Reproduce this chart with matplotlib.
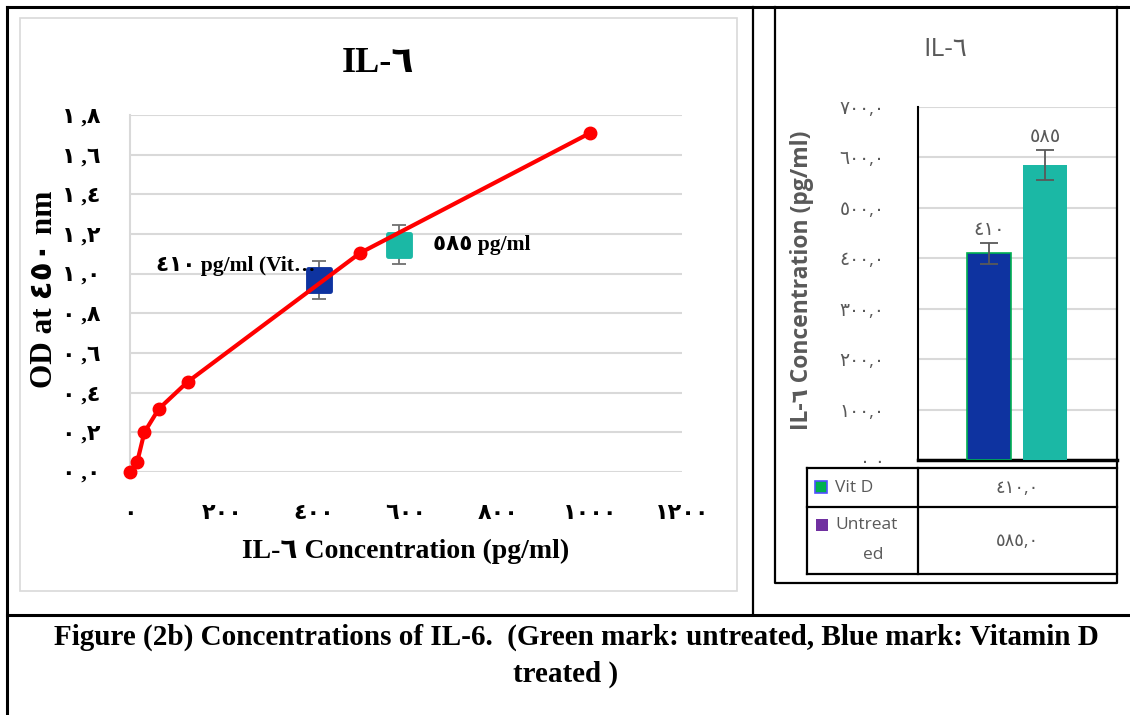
import matplotlib
matplotlib.use("Agg")
import matplotlib.pyplot as plt
from matplotlib.lines import Line2D
from matplotlib.patches import Rectangle
from matplotlib.markers import MarkerStyle

W, H = 1130, 715
AR = str.maketrans("0123456789", "٠١٢٣٤٥٦٧٨٩")


def ar(s):
    return str(s).translate(AR)


# ---- data -------------------------------------------------------------------
# standard curve (left chart)
std_conc = [0, 15.6, 31.25, 62.5, 125, 500, 1000]
std_od = [0.0, 0.05, 0.20, 0.318, 0.454, 1.104, 1.709]

# samples
sample_names = ["Vit D", "Untreated"]
sample_conc = [410, 585]
sample_od = [0.968, 1.145]
sample_od_err = [0.098, 0.098]
sample_text = ["٤١٠ pg/ml (Vit…", "٥٨٥ pg/ml"]

# bar chart (right)
bar_vals = [410, 585]
bar_err = [21, 29]

x_ticks = [0, 200, 400, 600, 800, 1000, 1200]
y_ticks = [0.0, 0.2, 0.4, 0.6, 0.8, 1.0, 1.2, 1.4, 1.6, 1.8]
bar_ticks = [0, 100, 200, 300, 400, 500, 600, 700]

BLUE = "#0E33A0"
TEAL = "#1BB8A5"
RED = "#FF0000"
GRID = "#D9D9D9"
GRAY = "#595959"
SERIF = ["Liberation Serif", "DejaVu Sans"]
SANS = ["Open Sans", "DejaVu Sans"]

fig = plt.figure(figsize=(W / 100, H / 100), dpi=100)


def box(l, t, r, b):
    return [l / W, 1 - b / H, (r - l) / W, (b - t) / H]


def fline(xs, ys, color="black", lw=1.6, z=10):
    fig.add_artist(Line2D([x / W for x in xs], [1 - y / H for y in ys],
                          color=color, lw=lw, zorder=z,
                          solid_capstyle="projecting"))


def frect(x, y, w, h, z=6, **kw):
    fig.add_artist(Rectangle((x / W, 1 - (y + h) / H), w / W, h / H,
                             transform=fig.transFigure, zorder=z, **kw))


def ftext(x, y, s, **kw):
    fig.text(x / W, 1 - y / H, s, **kw)


# ---- left chart: standard curve ---------------------------------------------
frect(20, 18, 717, 573, z=0, facecolor="white", edgecolor=GRID, lw=1.2)

ax = fig.add_axes(box(130, 115, 682, 472))
ax.set_xlim(0, 1200)
ax.set_ylim(0, 1.8)
for s in ["top", "right", "bottom"]:
    ax.spines[s].set_visible(False)
ax.spines["left"].set_color(GRID)
ax.spines["left"].set_linewidth(1.5)
ax.set_yticks(y_ticks)
ax.set_yticklabels([ar(f"{v:.1f}".replace(".", " ,")) for v in y_ticks],
                   fontsize=16, fontweight="bold", family=SERIF)
ax.set_xticks(x_ticks)
ax.set_xticklabels([ar(v) for v in x_ticks], fontsize=16,
                   fontweight="bold", family=SERIF)
ax.tick_params(length=0)
ax.tick_params(axis="y", pad=21)
ax.tick_params(axis="x", pad=23)
ax.grid(axis="y", color=GRID, lw=1.5)
ax.set_axisbelow(True)

sq = MarkerStyle("s", joinstyle="round")
for c, od, err, col in zip(sample_conc, sample_od, sample_od_err, [BLUE, TEAL]):
    ax.errorbar([c], [od], yerr=[err], fmt="none", ecolor="#6F6F6F",
                elinewidth=1.3, capsize=5, capthick=1.3, zorder=3)
    ax.plot([c], [od], marker=sq, markersize=16, markeredgewidth=3.5,
            color=col, mec=col, linestyle="none", zorder=4)

ax.plot(std_conc, std_od, color=RED, lw=3, marker="o", markersize=9,
        zorder=5, clip_on=False)

ax.text(sample_conc[0] - 163 * 1200 / 552, sample_od[0] + 0.07, sample_text[0],
        ha="left", va="center", fontsize=15.5, fontweight="bold",
        family=SERIF, zorder=6)
ax.text(sample_conc[1] + 34 * 1200 / 552, sample_od[1], sample_text[1],
        ha="left", va="center", fontsize=15.5, fontweight="bold",
        family=SERIF, zorder=6)

ftext(378, 63, "IL-٦", ha="center", va="center", fontsize=26,
      fontweight="bold", family=SERIF)
ftext(406, 551, "IL-٦ Concentration (pg/ml)", ha="center", va="center",
      fontsize=20, fontweight="bold", family=SERIF)
ftext(45, 289, "OD at ٤٥٠ nm", ha="center", va="center", rotation=90,
      fontsize=22.5, fontweight="bold", family=SERIF)

# ---- right chart: bars --------------------------------------------------------
ax2 = fig.add_axes(box(918, 107, 1117, 460))
ax2.set_xlim(-0.5, 0.5)
ax2.set_ylim(0, 700)
offsets = [-0.143, 0.138]
ax2.bar(offsets[0], bar_vals[0], width=0.221, color=BLUE,
        edgecolor="#00B050", lw=1.2, zorder=3)
ax2.bar(offsets[1], bar_vals[1], width=0.221, color=TEAL, lw=0, zorder=3)
ax2.errorbar(offsets, bar_vals, yerr=bar_err, fmt="none", ecolor=GRAY,
             elinewidth=1.3, capsize=6.5, capthick=1.3, zorder=4)
for x, v, e in zip(offsets, bar_vals, bar_err):
    ax2.text(x, v + e + 26, ar(v), ha="center", va="center", fontsize=14,
             color=GRAY, family=SANS)
for s in ["top", "right"]:
    ax2.spines[s].set_visible(False)
ax2.spines["left"].set_linewidth(1.5)
ax2.spines["bottom"].set_linewidth(2.5)
ax2.set_xticks([])
ax2.set_yticks(bar_ticks)
ax2.set_yticklabels([ar(f"{v}.0".replace(".", ",")) for v in bar_ticks],
                    fontsize=13.5, color=GRAY, family=SANS)
ax2.tick_params(length=0, pad=24)
ax2.grid(axis="y", color=GRID, lw=1.5)
ax2.set_axisbelow(True)

ftext(945, 50, "IL-٦", ha="center", va="center", fontsize=19,
      color=GRAY, family=SANS)
ftext(802, 280, "IL-٦ Concentration (pg/ml)", ha="center", va="center",
      rotation=90, fontsize=16.5, fontweight="bold", color=GRAY, family=SANS)

# data table under the bars
frect(807, 463, 310, 111, z=6, facecolor="white", edgecolor="none")
for y in [468, 507, 574]:
    fline([807, 1117], [y, y], lw=1.6, z=7)
fline([807, 807], [468, 574], lw=1.6, z=7)
fline([918, 918], [468, 574], lw=1.6, z=7)
frect(815, 481, 12, 12, z=8, facecolor="#00B050", edgecolor="#5050FF", lw=1.2)
frect(816, 519, 12, 12, z=8, facecolor="#7030A0", edgecolor="none")
ftext(835, 488, sample_names[0], ha="left", va="center", fontsize=12.5,
      color=GRAY, family=SANS, zorder=8)
ftext(835, 525, "Untreat", ha="left", va="center", fontsize=12.5,
      color=GRAY, family=SANS, zorder=8)
ftext(873, 555, "ed", ha="center", va="center", fontsize=12.5,
      color=GRAY, family=SANS, zorder=8)
for y, v in zip([488, 541], bar_vals):
    ftext(1017, y, ar(f"{v}.0".replace(".", ",")), ha="center", va="center",
          fontsize=13, color=GRAY, family=SANS, zorder=8)

# right chart frame
fline([775, 775, 1117, 1117], [7, 583, 583, 7], lw=1.6, z=9)

# ---- outer table layout -------------------------------------------------------
fline([7, 1130], [7, 7], lw=2.2)
fline([7, 7], [7, 715], lw=2.2)
fline([753, 753], [7, 615], lw=1.6)
fline([7, 1130], [615, 615], lw=2.2)

ftext(576, 637, "Figure (2b) Concentrations of IL-6.  (Green mark: untreated, "
      "Blue mark: Vitamin D", ha="center", va="center", fontsize=21,
      fontweight="bold", family=SERIF)
ftext(566, 674, "treated )", ha="center", va="center", fontsize=21,
      fontweight="bold", family=SERIF)

fig.savefig("out.png", dpi=100)
